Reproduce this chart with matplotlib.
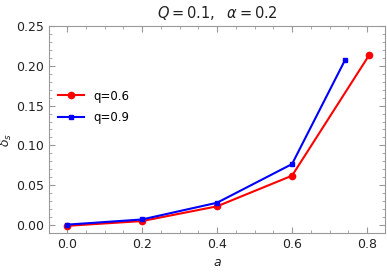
import matplotlib
matplotlib.use("Agg")
import matplotlib.pyplot as plt
from matplotlib.ticker import MultipleLocator

a_q06 = [0.0, 0.2, 0.4, 0.6, 0.805]
d_q06 = [-0.001, 0.005, 0.0235, 0.062, 0.213]
a_q09 = [0.0, 0.2, 0.4, 0.6, 0.741]
d_q09 = [0.0005, 0.007, 0.028, 0.0766, 0.207]

plt.rcParams['font.family'] = ['DejaVu Sans']
fig = plt.figure(figsize=(3.87, 2.73), dpi=100)
ax = fig.add_axes([0.1266, 0.1465, 0.8684, 0.7583])

ax.plot(a_q06, d_q06, color='red', lw=1.5, marker='o', ms=4.5, label='q=0.6')
ax.plot(a_q09, d_q09, color='blue', lw=1.5, marker='s', ms=3, label='q=0.9')

ax.set_xlim(-0.048, 0.848)
ax.set_ylim(-0.01, 0.25)
ax.xaxis.set_major_locator(MultipleLocator(0.2))
ax.xaxis.set_minor_locator(MultipleLocator(0.05))
ax.yaxis.set_major_locator(MultipleLocator(0.05))
ax.yaxis.set_minor_locator(MultipleLocator(0.01))
ax.xaxis.set_major_formatter(plt.FormatStrFormatter('%.1f'))
ax.yaxis.set_major_formatter(plt.FormatStrFormatter('%.2f'))
for s in ax.spines.values():
    s.set_color('#999999')
ax.tick_params(which='both', direction='in', top=True, right=True, colors='#999999',
               labelcolor='#222222', labelsize=9)
ax.tick_params(which='major', length=4)
ax.tick_params(which='minor', length=2)

ax.set_title(r'$Q = 0.1,\ \ \alpha = 0.2$', fontsize=10.5, color='#222222', pad=6)
ax.set_xlabel(r'$a$', fontsize=9, color='#222222')
ax.set_ylabel(r'$\delta_s$', fontsize=9, color='#222222')
ax.yaxis.set_label_coords(-0.105, 0.45)

ax.legend(loc='center left', bbox_to_anchor=(-0.005, 0.61), frameon=False, fontsize=8.5,
          handlelength=2.2, labelspacing=0.7)

fig.savefig('out.png', dpi=100)
